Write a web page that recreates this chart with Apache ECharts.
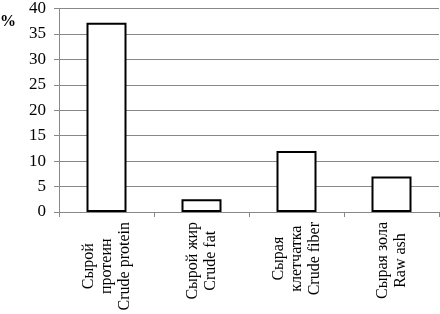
<!DOCTYPE html>
<html><head><meta charset="utf-8">
<script src="https://cdn.jsdelivr.net/npm/echarts@6/dist/echarts.min.js"></script>
<style>html,body{margin:0;padding:0;background:#fff}#c{width:440px;height:314px}</style>
</head><body><div id="c"></div>
<script>
const categories = [
  ['Сырой', 'протеин', 'Crude protein'],
  ['Сырой жир', 'Crude fat'],
  ['Сырая', 'клетчатка', 'Crude fiber'],
  ['Сырая зола', 'Raw ash']
];
const values = [37.2, 2.5, 12.0, 7.0];
const yTicks = [0, 5, 10, 15, 20, 25, 30, 35, 40];

const font = '"Liberation Serif", "Times New Roman", serif';
const chart = echarts.init(document.getElementById('c'));
chart.setOption({
  animation: false,
  grid: {left: 59, right: 1, top: 6, bottom: 102},
  graphic: [{type: 'text', left: 0, top: 14, style: {text: '%', font: 'bold 16px ' + font, fill: '#000'}}],
  xAxis: {
    type: 'category',
    data: categories.map(c => c.join('\n')),
    axisLine: {lineStyle: {color: '#888', width: 1}},
    axisTick: {show: true, length: 5, lineStyle: {color: '#888'}},
    axisLabel: {
      rotate: 90, margin: 10, interval: 0,
      formatter: v => v.split('\n').map(s => '{a|' + s + '}').join('\n'),
      rich: {a: {align: 'center', fontFamily: font, fontSize: 16, lineHeight: 18, color: '#000'}}
    }
  },
  yAxis: {
    type: 'value', min: yTicks[0], max: yTicks[yTicks.length - 1], interval: 5,
    axisLine: {show: true, lineStyle: {color: '#888'}},
    axisTick: {show: true, length: 5, lineStyle: {color: '#888'}},
    splitLine: {lineStyle: {color: '#888'}},
    axisLabel: {fontFamily: font, fontSize: 17, color: '#000', margin: 13}
  },
  series: [{
    type: 'bar', data: values, barWidth: 40,
    itemStyle: {color: '#fff', borderColor: '#000', borderWidth: 2}
  }]
});
</script></body></html>
